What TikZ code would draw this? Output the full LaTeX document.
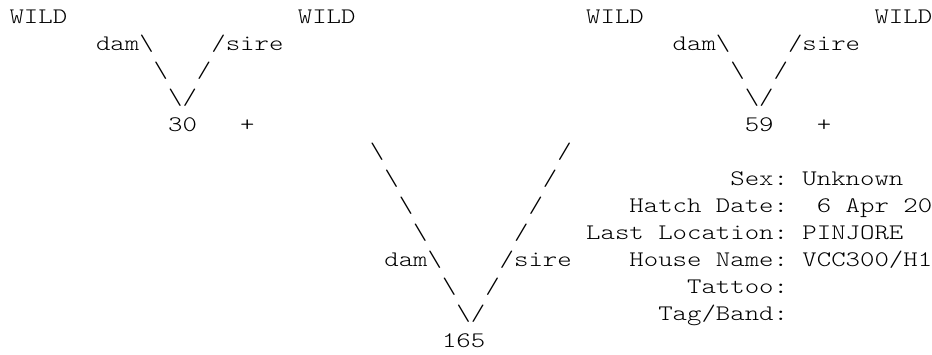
\documentclass[tikz,border=0pt]{standalone}
\usepackage{fontspec}
\newfontfamily\asciimono[FakeStretch=1.237]{lmmonolt10-regular.otf}
\tikzset{
  asciitok/.style={anchor=base west, inner sep=0pt, outer sep=0pt, text=black,
    font=\asciimono\fontsize{22.2pt}{27pt}\selectfont}
}
% column width 14.417, left offset 9.5, baseline of row 0 at 23.5, row pitch 27.0
\newcommand{\tok}[4]{\node[asciitok] (#1) at ({9.5+14.417*(#2)},{23.5+27.0*(#3)}) {#4};}
\newcommand{\bs}{\textbackslash}
\begin{document}
\begin{tikzpicture}[x=1pt,y=-1pt]
\useasboundingbox (0,0) rectangle (932,355);
% row 0
\tok{w1}{0}{0}{WILD}
\tok{w2}{20}{0}{WILD}
\tok{w3}{40}{0}{WILD}
\tok{w4}{60}{0}{WILD}
% row 1
\tok{damA}{6}{1}{dam\bs}
\tok{sireA}{14}{1}{/sire}
\tok{damB}{46}{1}{dam\bs}
\tok{sireB}{54}{1}{/sire}
% row 2
\tok{a2l}{10}{2}{\bs}
\tok{a2r}{13}{2}{/}
\tok{b2l}{50}{2}{\bs}
\tok{b2r}{53}{2}{/}
% row 3
\tok{a3}{11}{3}{\bs/}
\tok{b3}{51}{3}{\bs/}
% row 4
\tok{n30}{11}{4}{30}
\tok{p30}{16}{4}{+}
\tok{n59}{51}{4}{59}
\tok{p59}{56}{4}{+}
% central V
\tok{c5l}{25}{5}{\bs}
\tok{c5r}{38}{5}{/}
\tok{c6l}{26}{6}{\bs}
\tok{c6r}{37}{6}{/}
\tok{c7l}{27}{7}{\bs}
\tok{c7r}{36}{7}{/}
\tok{c8l}{28}{8}{\bs}
\tok{c8r}{35}{8}{/}
\tok{damC}{26}{9}{dam\bs}
\tok{sireC}{34}{9}{/sire}
\tok{c10l}{30}{10}{\bs}
\tok{c10r}{33}{10}{/}
\tok{c11}{31}{11}{\bs/}
\tok{n165}{30}{12}{165}
% info block
\tok{lsex}{50}{6}{Sex:}
\tok{vsex}{55}{6}{Unknown}
\tok{lhatch}{43}{7}{Hatch Date:}
\tok{vhatch}{56}{7}{6 Apr 20}
\tok{lloc}{40}{8}{Last Location:}
\tok{vloc}{55}{8}{PINJORE}
\tok{lhouse}{43}{9}{House Name:}
\tok{vhouse}{55}{9}{VCC300/H1}
\tok{ltattoo}{47}{10}{Tattoo:}
\tok{ltag}{45}{11}{Tag/Band:}
\end{tikzpicture}
\end{document}
